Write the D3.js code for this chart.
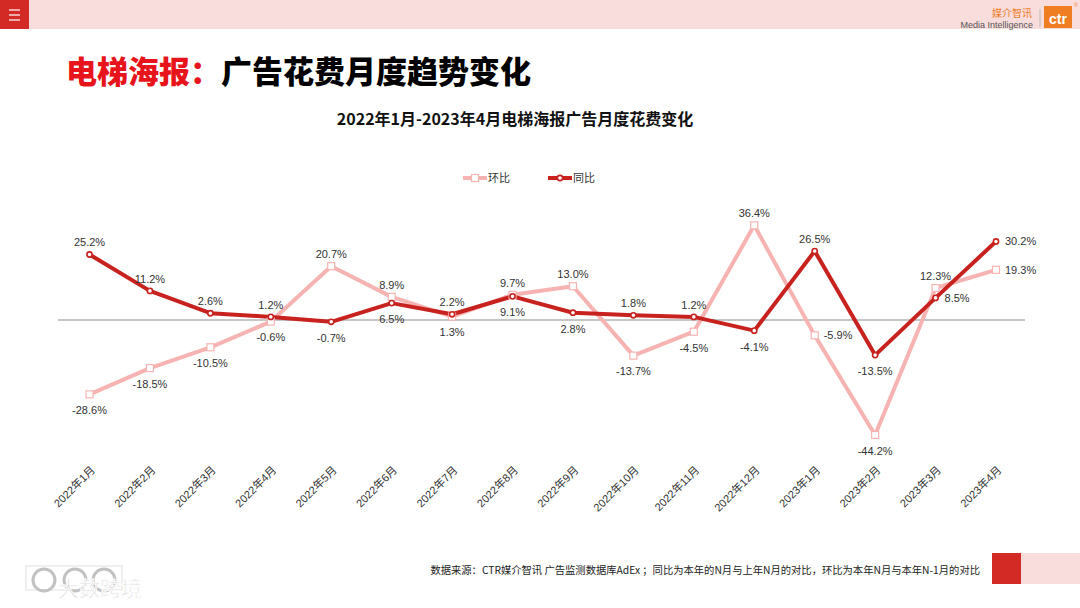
<!DOCTYPE html>
<html>
<head>
<meta charset="utf-8">
<script src="https://cdn.jsdelivr.net/npm/d3@7"></script>
<style>
  html, body { margin: 0; padding: 0; background: #fff; }
  svg { display: block; }
</style>
</head>
<body>
<main></main>
<script>
// Data
const months = ["2022年1月", "2022年2月", "2022年3月", "2022年4月", "2022年5月", "2022年6月", "2022年7月", "2022年8月",
	"2022年9月", "2022年10月", "2022年11月", "2022年12月", "2023年1月", "2023年2月", "2023年3月", "2023年4月"];
const huanbi = [-28.6, -18.5, -10.5, -0.6, 20.7, 8.9, 1.3, 9.7, 13.0, -13.7, -4.5, 36.4, -5.9, -44.2, 12.3, 19.3];
const tongbi = [25.2, 11.2, 2.6, 1.2, -0.7, 6.5, 2.2, 9.1, 2.8, 1.8, 1.2, -4.1, 26.5, -13.5, 8.5, 30.2];
// where each value label sits: t = above, b = below, r = right
const huanbiLabelPos = ["b", "b", "b", "b", "t", "t", "b", "t", "t", "b", "b", "t", "r", "b", "t", "r"];
const tongbiLabelPos = ["t", "t", "t", "t", "b", "b", "t", "b", "b", "t", "t", "b", "t", "b", "r", "r"];
const seriesNames = ["环比", "同比"];

const width = 1080;
const height = 608;
const darkRed = "#c8221f";
const lightRed = "#f6b3b1";
const labelFont = "'Liberation Sans', Arial, 'Noto Sans CJK SC', sans-serif";
const cjkFont = "'Noto Sans CJK SC', sans-serif";

const svg = d3.select("main")
	.append("svg")
		.attr("width", width)
		.attr("height", height);

// Page decoration
svg.append("rect").attr("x", 0).attr("y", 0).attr("width", width).attr("height", 29).attr("fill", "#f9dcdc");
svg.append("rect").attr("x", 0).attr("y", 0).attr("width", 29).attr("height", 29).attr("fill", "#d42a26");
[10, 15, 20].forEach(y => {
	svg.append("line").attr("x1", 9).attr("x2", 20).attr("y1", y).attr("y2", y)
		.attr("stroke", "#fff").attr("stroke-width", 1.2);
});
svg.append("text").attr("x", 1032).attr("y", 17).attr("text-anchor", "end")
	.attr("font-family", cjkFont).attr("font-size", 10).attr("fill", "#ef7d2a").text("媒介智讯");
svg.append("text").attr("x", 1033).attr("y", 28).attr("text-anchor", "end")
	.attr("font-family", labelFont).attr("font-size", 9).attr("fill", "#555").text("Media Intelligence");
svg.append("line").attr("x1", 1040).attr("x2", 1040).attr("y1", 9).attr("y2", 27).attr("stroke", "#bbb");
svg.append("rect").attr("x", 1044).attr("y", 6).attr("width", 28).attr("height", 22).attr("fill", "#ef7d22");
svg.append("text").attr("x", 1058).attr("y", 24).attr("text-anchor", "middle")
	.attr("font-family", labelFont).attr("font-weight", "bold").attr("font-size", 14).attr("fill", "#fff").text("ctr");
svg.append("text").attr("x", 1074).attr("y", 7)
	.attr("font-family", labelFont).attr("font-size", 5).attr("fill", "#ef7d22").text("®");

const heading = svg.append("text").attr("x", 66).attr("y", 83)
	.attr("font-family", cjkFont).attr("font-weight", 900).attr("font-size", 31);
heading.append("tspan").attr("fill", "#e8141b").text("电梯海报：");
heading.append("tspan").attr("fill", "#000").text("广告花费月度趋势变化");

svg.append("text").attr("x", 515).attr("y", 125).attr("text-anchor", "middle")
	.attr("font-family", cjkFont).attr("font-weight", "bold").attr("font-size", 16).attr("fill", "#111")
	.text("2022年1月-2023年4月电梯海报广告月度花费变化");

// Footer
svg.append("text").attr("x", 980).attr("y", 574).attr("text-anchor", "end")
	.attr("font-family", cjkFont).attr("font-size", 10.3).attr("fill", "#222")
	.text("数据来源：CTR媒介智讯 广告监测数据库AdEx ；同比为本年的N月与上年N月的对比，环比为本年N月与本年N-1月的对比");
svg.append("rect").attr("x", 992).attr("y", 553).attr("width", 29).attr("height", 31).attr("fill", "#d42a26");
svg.append("rect").attr("x", 1021).attr("y", 553).attr("width", 59).attr("height", 31).attr("fill", "#f9dcdc");

// Watermark
const wm = svg.append("g").attr("opacity", 0.6);
wm.append("rect").attr("x", 26).attr("y", 566).attr("width", 96).attr("height", 24)
	.attr("fill", "none").attr("stroke", "#ccc");
[44, 75, 104].forEach(cx => {
	wm.append("circle").attr("cx", cx).attr("cy", 580).attr("r", 11)
		.attr("fill", "none").attr("stroke", "#999").attr("stroke-width", 3);
});
wm.append("text").attr("x", 58).attr("y", 596)
	.attr("font-family", cjkFont).attr("font-size", 21).attr("fill", "#bbb")
	.attr("stroke", "#fff").attr("stroke-width", 0.8).text("大数跨境");

// Scales
const xScale = d3.scalePoint()
	.domain(months)
	.range([89.5, 996]);

const yScale = d3.scaleLinear()
	.domain([-50, 40])
	.range([450, 216]);

// Zero line
svg.append("line")
	.attr("x1", 58).attr("x2", 1025)
	.attr("y1", yScale(0)).attr("y2", yScale(0))
	.attr("stroke", "#8c8c8c").attr("stroke-width", 1);

// Category axis
const xAxisGenerator = d3.axisBottom()
	.scale(xScale)
	.tickSize(0);

const xAxis = svg.append("g")
	.attr("transform", "translate(0, 465)")
	.call(xAxisGenerator);
xAxis.select(".domain").remove();
xAxis.selectAll("text")
	.attr("x", 0)
	.attr("y", 0)
	.attr("dy", "0.35em")
	.attr("transform", "translate(3, 3) rotate(-45)")
	.attr("text-anchor", "end")
	.attr("font-family", labelFont)
	.attr("font-size", 11)
	.attr("fill", "#333");

// Lines
const lineGenerator = d3.line()
	.x((d, i) => xScale(months[i]))
	.y(d => yScale(d));

svg.append("path")
	.datum(huanbi)
	.attr("d", lineGenerator)
	.attr("fill", "none")
	.attr("stroke", lightRed)
	.attr("stroke-width", 4)
	.attr("stroke-linejoin", "round");

svg.append("path")
	.datum(tongbi)
	.attr("d", lineGenerator)
	.attr("fill", "none")
	.attr("stroke", darkRed)
	.attr("stroke-width", 4)
	.attr("stroke-linejoin", "round");

// Markers
svg.selectAll(".hb-marker")
	.data(huanbi)
	.enter()
	.append("rect")
	.attr("class", "hb-marker")
	.attr("x", (d, i) => xScale(months[i]) - 3.5)
	.attr("y", d => yScale(d) - 3.5)
	.attr("width", 7)
	.attr("height", 7)
	.attr("fill", "#fff")
	.attr("stroke", lightRed)
	.attr("stroke-width", 1.2);

svg.selectAll(".tb-marker")
	.data(tongbi)
	.enter()
	.append("circle")
	.attr("class", "tb-marker")
	.attr("cx", (d, i) => xScale(months[i]))
	.attr("cy", d => yScale(d))
	.attr("r", 2.6)
	.attr("fill", "#fff")
	.attr("stroke", darkRed)
	.attr("stroke-width", 1.6);

// Value labels
function drawLabels(values, positions, cls) {
	svg.selectAll("." + cls)
		.data(values)
		.enter()
		.append("text")
		.attr("class", cls)
		.attr("x", (d, i) => xScale(months[i]) + (positions[i] === "r" ? 9 : 0))
		.attr("y", (d, i) => yScale(d) + (positions[i] === "t" ? -12 : positions[i] === "b" ? 16 : 0))
		.attr("dy", "0.35em")
		.attr("text-anchor", (d, i) => positions[i] === "r" ? "start" : "middle")
		.attr("font-family", labelFont)
		.attr("font-size", 11)
		.attr("fill", "#333")
		.text(d => d.toFixed(1) + "%");
}
drawLabels(huanbi, huanbiLabelPos, "hb-label");
drawLabels(tongbi, tongbiLabelPos, "tb-label");

// Legend
const legend = svg.append("g").attr("transform", "translate(463, 178)");
const legendItems = legend.selectAll("g")
	.data(seriesNames)
	.enter()
	.append("g")
	.attr("transform", (d, i) => `translate(${i * 85}, 0)`);
legendItems.append("line")
	.attr("x1", 0).attr("x2", 24).attr("y1", 0).attr("y2", 0)
	.attr("stroke", (d, i) => i === 0 ? lightRed : darkRed)
	.attr("stroke-width", 4);
legendItems.each(function(d, i) {
	const g = d3.select(this);
	if (i === 0) {
		g.append("rect").attr("x", 8.5).attr("y", -3.5).attr("width", 7).attr("height", 7)
			.attr("fill", "#fff").attr("stroke", lightRed).attr("stroke-width", 1.2);
	} else {
		g.append("circle").attr("cx", 12).attr("cy", 0).attr("r", 2.6)
			.attr("fill", "#fff").attr("stroke", darkRed).attr("stroke-width", 1.6);
	}
});
legendItems.append("text")
	.attr("x", 25)
	.attr("dy", "0.35em")
	.attr("font-family", cjkFont)
	.attr("font-size", 11)
	.attr("fill", "#333")
	.text(d => d);
</script>
</body>
</html>
